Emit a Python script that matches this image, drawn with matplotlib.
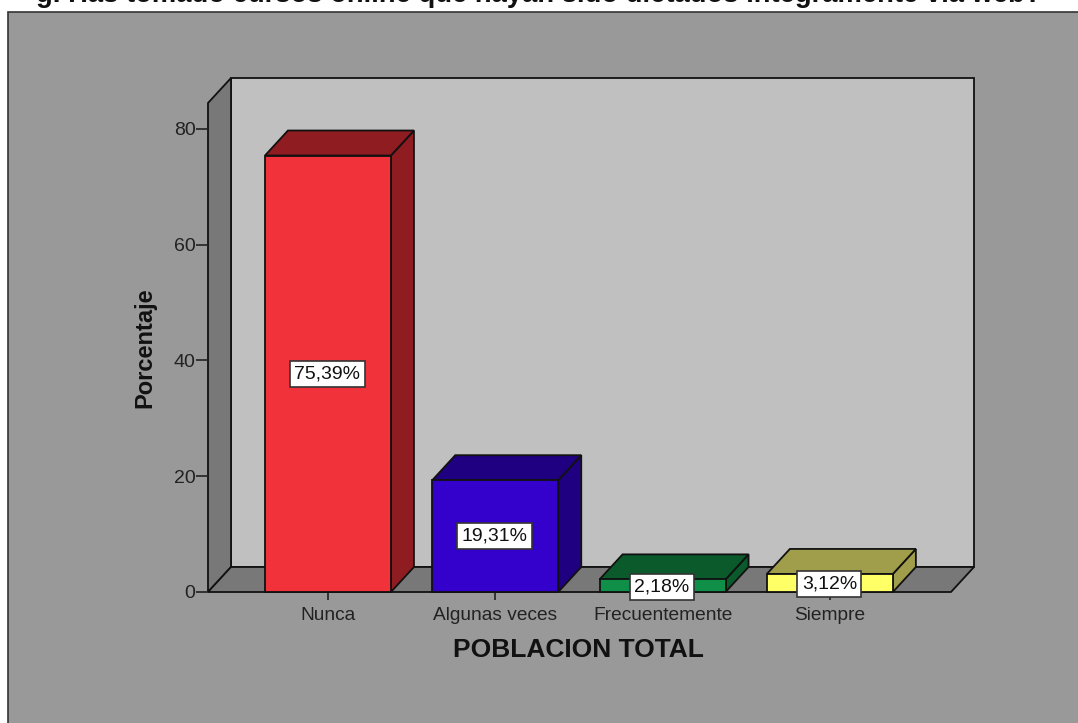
import matplotlib
matplotlib.use("Agg")
import matplotlib.pyplot as plt
from matplotlib.patches import Polygon, Rectangle

plt.rcParams['font.family'] = ['Liberation Sans', 'DejaVu Sans']

categorias = ['Nunca', 'Algunas veces', 'Frecuentemente', 'Siempre']
valores = [75.39, 19.31, 2.18, 3.12]
etiquetas = ['75,39%', '19,31%', '2,18%', '3,12%']
ticks_y = [0, 20, 40, 60, 80]
frente = ['#f2323a', '#3300cc', '#0f8f48', '#ffff66']
lado = ['#8e1c20', '#1f0080', '#0a5a2c', '#a09e4a']

W, H = 1078, 723
fig = plt.figure(figsize=(W / 100, H / 100), dpi=100, facecolor='white')
fig.patches.append(Rectangle((8 / W, -0.01), 1.01, 1.01 - 12 / H, transform=fig.transFigure,
                             facecolor='#999999', edgecolor='#333333', lw=1.2, zorder=-5))

ax = fig.add_axes([208 / W, 1 - 592 / H, 743 / W, 489 / H])
ax.patch.set_visible(False)
ax.set_xlim(-0.717, 3.724)
ax.set_ylim(0, 84.46)
for s in ax.spines.values():
    s.set_visible(False)

# profundidad 3D, en unidades de datos
dx = 23 / 167.3
dy = 25 / 5.79
x0, x1 = ax.get_xlim()
y1 = ax.get_ylim()[1]
linea = dict(edgecolor='#111111', lw=1.3, joinstyle='miter', clip_on=False)


def poly(puntos, color, z=1):
    ax.add_patch(Polygon(puntos, closed=True, facecolor=color, zorder=z, **linea))


poly([(x0 + dx, dy), (x1 + dx, dy), (x1 + dx, y1 + dy), (x0 + dx, y1 + dy)], '#c0c0c0')
poly([(x0, 0), (x0 + dx, dy), (x0 + dx, y1 + dy), (x0, y1)], '#787878')
poly([(x0, 0), (x1, 0), (x1 + dx, dy), (x0 + dx, dy)], '#787878')

ancho = 0.753
for i, v in enumerate(valores):
    a, b = i - ancho / 2, i + ancho / 2
    z = 3 + i
    poly([(b, 0), (b + dx, dy), (b + dx, v + dy), (b, v)], lado[i], z)
    poly([(a, v), (b, v), (b + dx, v + dy), (a + dx, v + dy)], lado[i], z)
    ax.add_patch(Rectangle((a, 0), ancho, v, facecolor=frente[i], zorder=z, **linea))

ax.set_xticks(range(len(categorias)), categorias)
ax.set_yticks(ticks_y)
ax.tick_params(axis='x', length=6, width=1.2, color='#222222', labelsize=13.8,
               labelcolor='#222222', pad=5)
ax.tick_params(axis='y', length=9, width=1.2, color='#222222', labelsize=14,
               labelcolor='#222222', pad=0)
ax.set_xlabel('POBLACION TOTAL', fontsize=19, fontweight='bold', color='#111111', va='center')
ax.set_ylabel('Porcentaje', fontsize=17, fontweight='bold', color='#111111', va='center')
ax.xaxis.set_label_coords(0.498, -58 / 489)
ax.yaxis.set_label_coords(-63 / 743, 0.499)

# etiquetas: centradas en la barra, las bajas quedan sobre el eje
pos_y = [v / 2 for v in valores]
pos_y[2] = 0.85
pos_y[3] = 1.4
for i, txt in enumerate(etiquetas):
    ax.text(i - 0.003, pos_y[i], txt, ha='center', va='center', fontsize=14, color='#111111', zorder=10,
            clip_on=False,
            bbox=dict(boxstyle='square,pad=0.22', facecolor='white', edgecolor='#333333', lw=1.2))

fig.text(539 / W, 1 - 2 / H, 'g. Has tomado cursos online que hayan sido dictados íntegramente vía web?',
         ha='center', va='baseline', fontsize=19.7, fontweight='bold', color='#111111')

fig.savefig('out.png', dpi=100)
